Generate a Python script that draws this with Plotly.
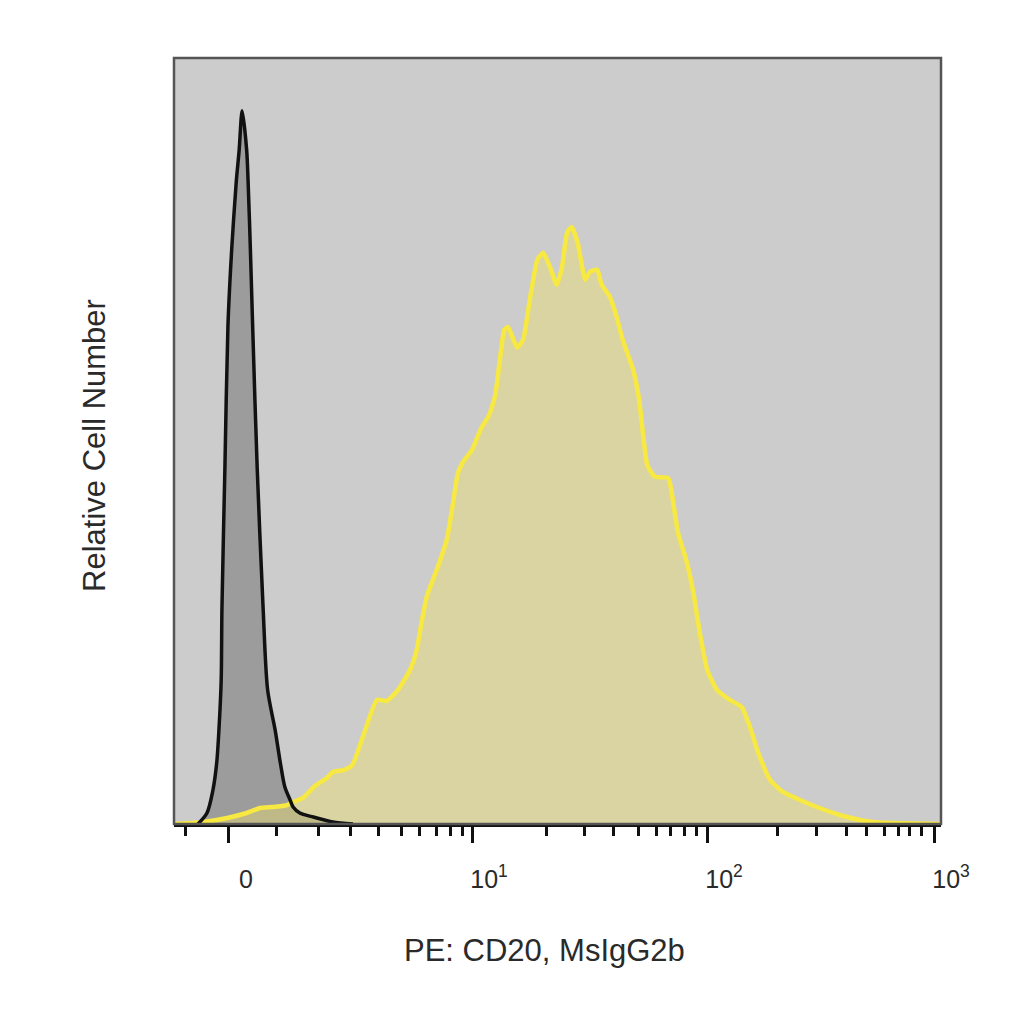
import plotly.graph_objects as go

# x values are instrument channels (0-1024) on the biexponential display scale
iso_channel = [32, 44, 52, 57, 60, 63, 64, 68, 72, 77, 83, 87, 91, 97, 99, 102, 105,
               111, 119, 125, 135, 142, 148, 155, 159, 168, 186, 212, 239]
iso_count = [0, 1.54, 4.77, 8.55, 13.2, 20.2, 30.2, 50.1, 69.8, 80.5, 89.9, 94.5, 100,
             94.5, 89.9, 80.5, 69.8, 50.1, 30.2, 18.8, 13.2, 8.55, 5.19, 3.37, 2.38,
             1.54, 0.98, 0.28, 0]

cd20_channel = [0, 21, 39, 71, 97, 115, 132, 151, 159, 172, 188, 204, 212, 226, 238,
                252, 271, 284, 299, 315, 324, 331, 338, 352, 364, 371, 379, 386, 398,
                410, 421, 429, 435, 441, 446, 458, 466, 475, 485, 493, 502, 511, 518,
                525, 531, 539, 549, 555, 565, 571, 582, 591, 599, 613, 621, 626, 632,
                642, 660, 666, 673, 685, 694, 702, 712, 725, 742, 758, 769, 780, 796,
                813, 836, 862, 889, 916, 933, 960, 1024]
cd20_count = [0, 0.14, 0.28, 0.84, 1.54, 2.24, 2.38, 2.66, 3.09, 3.65, 5.33, 6.45, 7.29,
              7.57, 8.27, 12.2, 17.4, 17.25, 18.8, 21.6, 24.4, 28.6, 32.1, 36.0, 39.8,
              44.0, 49.2, 50.8, 52.5, 55.5, 57.4, 60.2, 65.1, 69.3, 69.7, 66.8, 67.9,
              73.5, 79.1, 80.1, 78.1, 75.6, 78.1, 83.0, 83.7, 81.5, 76.3, 77.4, 77.7,
              75.6, 73.9, 71.1, 67.9, 63.7, 59.5, 54.8, 50.3, 48.7, 48.5, 45.4, 40.8,
              36.6, 32.1, 26.8, 21.6, 18.8, 17.4, 16.4, 13.6, 10.0, 6.17, 4.49, 3.37,
              2.24, 1.26, 0.56, 0.28, 0.14, 0]

major_tick_pos = [73.4, 397.9, 711.6, 1014.7]
major_tick_text = ["0", "10<sup>1</sup>", "10<sup>2</sup>", "10<sup>3</sup>"]
minor_tick_pos = [15.4, 136.2, 192.3, 236.3, 272.4, 303.1, 328.4, 351.1, 369.8, 385.2,
                  496.7, 548.7, 587.4, 619.5, 643.5, 663.5, 682.2, 698.2,
                  805.1, 857.2, 897.2, 923.9, 947.9, 966.6, 982.6, 997.3]

x_title = "PE: CD20, MsIgG2b"
y_title = "Relative Cell Number"

FONT = "Liberation Sans, Arial, sans-serif"
TXT = "#2a2a2a"

fig = go.Figure()
fig.add_trace(go.Scatter(x=iso_channel, y=iso_count, mode="lines", fill="tozeroy",
                         fillcolor="#9c9c9c",
                         line=dict(width=0, color="#9c9c9c", shape="spline", smoothing=0.8),
                         hoverinfo="skip", showlegend=False))
fig.add_trace(go.Scatter(x=cd20_channel, y=cd20_count, mode="lines", fill="tozeroy",
                         fillcolor="rgba(236,222,110,0.45)",
                         line=dict(width=4.5, color="#f7e842", shape="spline", smoothing=0.5),
                         showlegend=False, name="CD20"))
fig.add_trace(go.Scatter(x=iso_channel, y=iso_count, mode="lines",
                         line=dict(width=3.5, color="#111111", shape="spline", smoothing=0.8),
                         showlegend=False, name="MsIgG2b"))

fig.update_layout(
    width=1024, height=1024,
    margin=dict(l=166, r=91, t=50, b=208),
    paper_bgcolor="white", plot_bgcolor="#cccccc",
    font=dict(family=FONT, color=TXT),
    xaxis=dict(range=[0, 1024], showgrid=False, zeroline=False,
               tickmode="array", tickvals=major_tick_pos, ticktext=major_tick_text,
               ticks="outside", ticklen=16, tickwidth=3, tickcolor="#111111",
               tickfont=dict(size=25, color=TXT), ticklabelshift=17,
               ticklabelstandoff=15,
               minor=dict(tickmode="array", tickvals=minor_tick_pos, ticks="outside",
                          ticklen=9, tickwidth=2.5, tickcolor="#111111"),
               showline=True, linecolor="#111111", linewidth=2.5),
    yaxis=dict(range=[0, 107.4], showgrid=False, zeroline=False,
               showticklabels=False, ticks=""),
    shapes=[dict(type="rect", xref="paper", yref="paper", x0=0, x1=1, y0=0, y1=1,
                 line=dict(color="#555555", width=2.5), layer="above")],
    annotations=[
        dict(text=x_title, xref="paper", yref="paper", x=0.4824, y=-0.165,
             xanchor="center", yanchor="middle", showarrow=False,
             font=dict(size=31, color=TXT)),
        dict(text=y_title, xref="paper", yref="paper", x=-0.103, y=0.4948,
             xanchor="center", yanchor="middle", textangle=-90, showarrow=False,
             font=dict(size=31, color=TXT)),
    ],
)

fig.write_html("out.html")
